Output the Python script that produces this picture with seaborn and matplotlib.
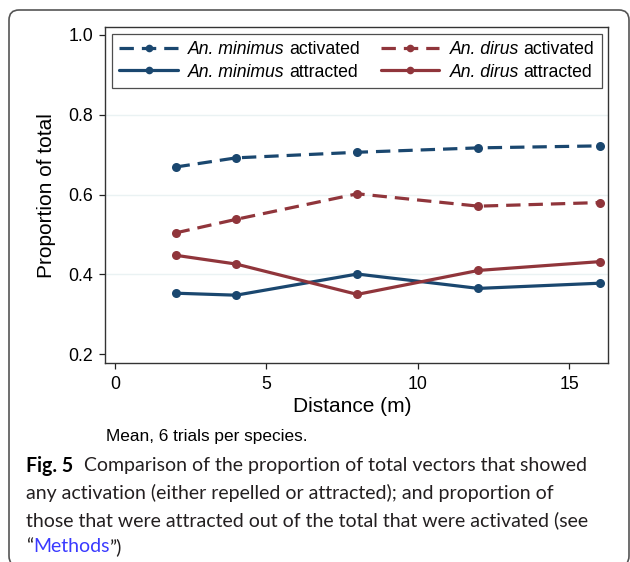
import matplotlib
matplotlib.use("Agg")
import matplotlib.pyplot as plt
import seaborn as sns
import pandas as pd
from matplotlib.patches import FancyBboxPatch
from matplotlib.lines import Line2D

# ---- data ----
distance = [2, 4, 8, 12, 16]
minimus_activated = [0.669, 0.692, 0.706, 0.717, 0.722]
minimus_attracted = [0.353, 0.348, 0.401, 0.365, 0.378]
dirus_activated = [0.504, 0.538, 0.602, 0.571, 0.580]
dirus_attracted = [0.448, 0.426, 0.350, 0.410, 0.432]
yticks = [0.2, 0.4, 0.6, 0.8, 1.0]
xticks = [0, 5, 10, 15]
legend_species = ["An. minimus", "An. minimus", "An. dirus", "An. dirus"]
legend_measure = ["activated", "attracted", "activated", "attracted"]

NAVY = "#1a476f"
MAROON = "#90353b"

sns.set_theme(style="white")
plt.rcParams["font.family"] = ["Liberation Sans", "DejaVu Sans"]

rows = []
for sp, meas, vals in [("minimus", "activated", minimus_activated),
                       ("minimus", "attracted", minimus_attracted),
                       ("dirus", "activated", dirus_activated),
                       ("dirus", "attracted", dirus_attracted)]:
    for d, v in zip(distance, vals):
        rows.append({"Distance": d, "Proportion": v, "species": sp, "measure": meas})
df = pd.DataFrame(rows)

W, H = 630, 562
fig = plt.figure(figsize=(W / 100, H / 100), dpi=100)
ax_l, ax_r, ax_t, ax_b = 105, 608, 27.3, 363.3
ax = fig.add_axes([ax_l / W, 1 - ax_b / H, (ax_r - ax_l) / W, (ax_b - ax_t) / H])

DASH = (4.5, 2.5)
sns.lineplot(data=df, x="Distance", y="Proportion", hue="species", style="measure",
             palette={"minimus": NAVY, "dirus": MAROON},
             dashes={"activated": DASH, "attracted": ""},
             markers={"activated": "o", "attracted": "o"},
             markersize=6.5, markeredgewidth=0, linewidth=2.3, ax=ax, legend=False)

ax.set_xlim(-0.33, 16.28)
ax.set_ylim(0.1774, 1.019)
ax.set_xticks(xticks)
ax.set_yticks(yticks)
ax.set_xticklabels([str(t) for t in xticks])
ax.set_yticklabels([f"{t:.1f}" for t in yticks])
ax.tick_params(axis="both", which="major", length=4.2, width=0.9, color="#222222",
               labelsize=12.8, labelcolor="black", direction="out")
ax.tick_params(axis="x", pad=5.0)
ax.tick_params(axis="y", pad=4.5)
ax.xaxis.set_ticks_position("bottom")
ax.yaxis.set_ticks_position("left")
for s in ax.spines.values():
    s.set_visible(True)
    s.set_color("#333333")
    s.set_linewidth(1.0)

ax.yaxis.grid(True, color="#eaf2f3", linewidth=1.0)
ax.set_axisbelow(True)
gl = ax.yaxis.get_gridlines()
gl[0].set_visible(False)
gl[-1].set_visible(False)

ax.set_xlabel("Distance (m)", fontsize=15, color="black")
ax.set_ylabel("Proportion of total", fontsize=15, color="black")
ax.xaxis.set_label_coords((352 - ax_l) / (ax_r - ax_l), -(397 - ax_b) / (ax_b - ax_t))
ax.yaxis.set_label_coords(-(105 - 56) / (ax_r - ax_l), 0.5)

# legend
def h(color, dashed):
    return Line2D([], [], color=color, lw=2.3, marker="o", markersize=5.5, markeredgewidth=0,
                  linestyle=(0, DASH) if dashed else "-")

handles = [h(NAVY, True), h(NAVY, False), h(MAROON, True), h(MAROON, False)]
labels = [f"{s} {m}" for s, m in zip(legend_species, legend_measure)]
LEG_FS = 12.7
x0 = (112 - ax_l) / (ax_r - ax_l)
x1 = (602 - ax_l) / (ax_r - ax_l)
ytop = 1 - (33.5 - ax_t) / (ax_b - ax_t)
leg = ax.legend(handles, labels, ncol=2, loc="upper left",
                bbox_to_anchor=(x0, ytop, x1 - x0, 0), mode="expand", borderaxespad=0,
                fontsize=LEG_FS, frameon=True, fancybox=False, edgecolor="#222222",
                handlelength=3.3, handletextpad=0.6, borderpad=0.42, labelspacing=0.32,
                columnspacing=1.0)
leg.get_frame().set_linewidth(0.9)

fig.canvas.draw()
renderer = fig.canvas.get_renderer()

# overlay mixed italic / regular legend labels at the legend text positions
for t, sp, me in zip(leg.get_texts(), legend_species, legend_measure):
    bb = t.get_window_extent(renderer)
    t.set_alpha(0)
    yc = (bb.y0 + bb.y1) / 2
    a = fig.text(bb.x0, yc, sp + " ", transform=None, va="center", ha="left",
                 fontsize=LEG_FS, style="italic", color="black")
    ab = a.get_window_extent(renderer)
    fig.text(ab.x1, yc, me, transform=None, va="center", ha="left",
             fontsize=LEG_FS, color="black")

# note under axis
fig.text(106 / W, 1 - 436 / H, "Mean, 6 trials per species.", fontsize=12.4,
         va="center", ha="left", color="black")

# outer rounded border (pixel coords; bottom runs just past the image edge)
box = FancyBboxPatch((9 + 10, -4 + 10), 620 - 20, 556 - 20,
                     boxstyle="round,pad=10", transform=None,
                     fill=False, edgecolor="#555555", linewidth=1.2)
fig.patches.append(box)

# caption
cap_font = ["Lato", "DejaVu Sans"]
cap_size = 14.05
cap_color = "#231f20"

def chain(pieces, x_px, y_px):
    x = x_px
    for txt, kw in pieces:
        t = fig.text(x, H - y_px, txt, transform=None, va="center", ha="left",
                     family=cap_font, fontsize=cap_size, **kw)
        bb = t.get_window_extent(renderer)
        x = bb.x1

line1 = "Comparison of the proportion of total vectors that showed"
line2 = "any activation (either repelled or attracted); and proportion of"
line3 = "those that were attracted out of the total that were activated (see"

chain([("Fig. 5", dict(weight="bold", color="black")),
       ("  " + line1, dict(color=cap_color))], 26.5, 466)
chain([(line2, dict(color=cap_color))], 26.5, 493)
chain([(line3, dict(color=cap_color))], 26.5, 520)
chain([("\u201c", dict(color=cap_color)),
       ("Methods", dict(color="#3a3aff")),
       ("\u201d)", dict(color=cap_color))], 26.5, 547)

fig.savefig("out.png", dpi=100)
